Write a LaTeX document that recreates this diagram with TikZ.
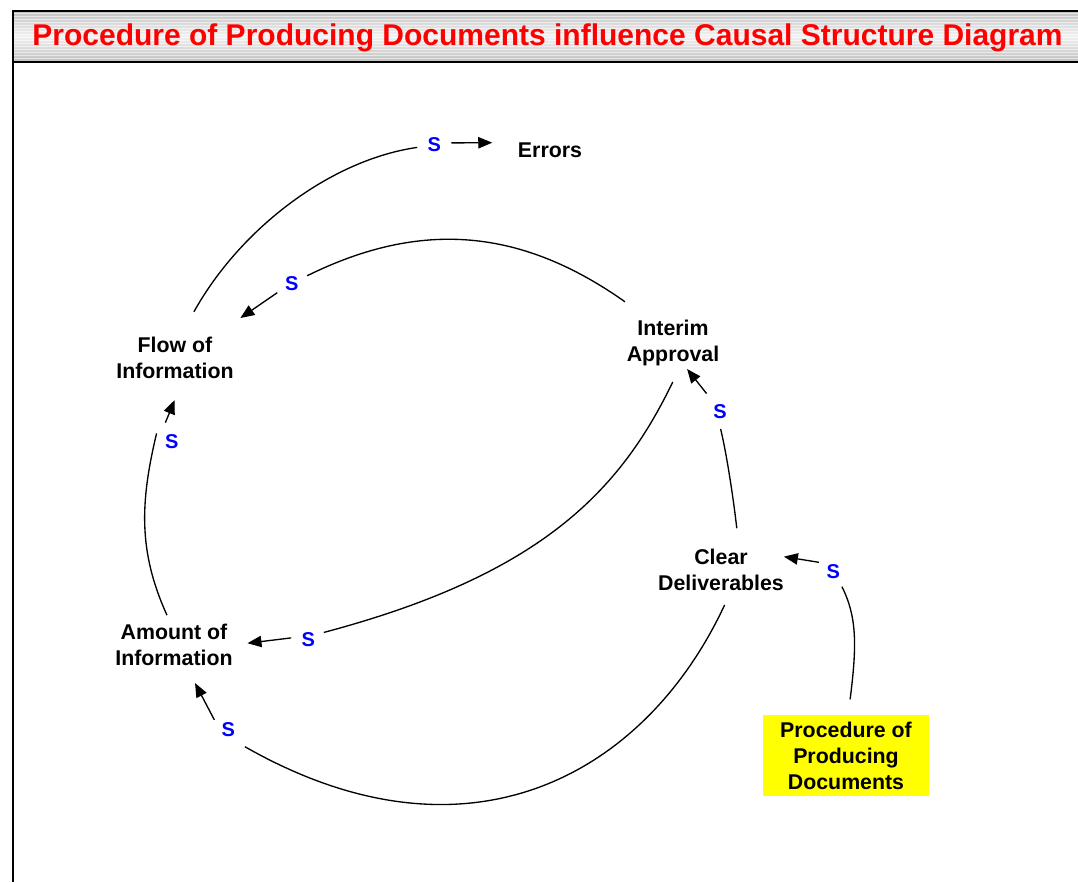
\documentclass[tikz,border=0pt]{standalone}
\usepackage{fontspec}
\setmainfont{Liberation Sans}
\usetikzlibrary{arrows.meta}
\definecolor{titlered}{RGB}{255,0,0}
\definecolor{signblue}{RGB}{0,0,255}
\definecolor{exoyellow}{RGB}{255,255,0}

\begin{document}
\begin{tikzpicture}[x=0.75pt,y=-0.75pt,
  var/.style={font=\fontsize{16}{19.5}\selectfont\bfseries, align=center,
              inner sep=0pt, outer sep=0pt},
  exo/.style={var, fill=exoyellow, minimum width=124.5pt, minimum height=60.75pt},
  pol/.style={circle, minimum size=25.5pt, inner sep=0pt, text=signblue,
              font=\fontsize{15}{17}\selectfont\bfseries},
  link/.style={line width=1pt, black},
  tip/.style={link, -{Triangle[length=10.5pt,width=8.5pt]}}
]
\useasboundingbox (0,0) rectangle (1078,882);

% title bar with striped grey fill
\shade[top color=black!25, bottom color=black!25, middle color=black!5]
  (12,10) rectangle (1078,62);
\foreach \yy in {13,16,...,60}
  \draw[white, opacity=0.55, line width=0.6pt] (12,\yy) -- (1078,\yy);
\draw[line width=1.5pt] (1078,10.5) -- (12.5,10.5) -- (12.5,882);
\draw[line width=1.5pt] (12.5,62) -- (1078,62);
\node[anchor=base, text=titlered, font=\fontsize{22.5}{27}\selectfont\bfseries, inner sep=0pt]
  (title) at (547.5,45.5) {Procedure of Producing Documents influence Causal Structure Diagram};

% variables
\node[var] (errors)  at (550,150) {Errors};
\node[var] (flow)    at (175,358) {Flow of\\Information};
\node[var] (interim) at (673,343) {Interim\\Approval};
\node[var] (clear)   at (721,570) {Clear\\Deliverables};
\node[var] (amount)  at (174,645) {Amount of\\Information};
\node[exo] (proc)    at (846,755.5) {Procedure of\\Producing\\Documents};

% polarity signs
\node[pol] (s1) at (434.3,145)   {S};
\node[pol] (s2) at (291.7,283.3) {S};
\node[pol] (s3) at (308.3,640)   {S};
\node[pol] (s4) at (720,411.7)   {S};
\node[pol] (s5) at (171.7,441.7) {S};
\node[pol] (s6) at (228.3,730)   {S};
\node[pol] (s7) at (833.3,571.7) {S};

% causal links: curve from cause to sign
\draw[link, shorten <=21.75pt] (flow.77) .. controls (240,229) and (330,160) .. (s1.188);
\draw[link, shorten <=23.8pt] (interim.134.6) .. controls (522,229) and (422,219) .. (s2.26.6);
\draw[link, shorten <=13.3pt] (interim.288.7) .. controls (619.8,492) and (540,575) .. (s3.26);
\draw[link, shorten <=15.8pt] (clear.49.4) .. controls (733.5,499) and (726.5,453) .. (s4.272);
\draw[link, shorten <=7.4pt] (amount.98) .. controls (137.9,551.2) and (140.3,501.5) .. (s5.151);
\draw[link, shorten <=11.6pt, shorten >=5pt] (clear.296.6) .. controls (646.5,773) and (470,875) .. (s6.309);
\draw[link, shorten <=11.8pt] (proc.87.6) .. controls (857,645) and (857,617) .. (s7.300);

% arrows from sign to effect
\draw[tip, shorten >=19.3pt] (s1.7.5) -- (errors.north west);
\draw[tip, shorten >=25.3pt] (s2.213.7) -- (flow.29.2);
\draw[tip, shorten >=11.2pt] (s3.173.8) -- (amount.east);
\draw[tip, shorten <=4pt, shorten >=2.9pt] (s4.126.4) -- (interim.297.6);
\draw[tip, shorten <=3pt, shorten >=17.2pt] (s5.117.8) -- (flow.292.3);
\draw[tip, shorten >=14.6pt] (s6.144.5) -- (amount.300.2);
\draw[tip] (s7.147.7) -- (clear.12);
\end{tikzpicture}
\end{document}
